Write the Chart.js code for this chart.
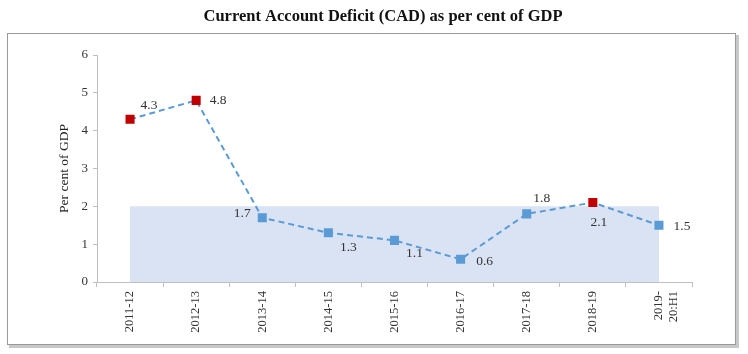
<!DOCTYPE html>
<html><head><meta charset="utf-8">
<script src="https://cdn.jsdelivr.net/npm/chart.js@4/dist/chart.umd.min.js"></script>
<style>html,body{margin:0;padding:0;background:#fff}#wrap{width:748px;height:354px;position:relative}</style>
</head><body><div id="wrap"><canvas id="c" width="748" height="354"></canvas></div>
<script>
const categories = ["2011-12","2012-13","2013-14","2014-15","2015-16","2016-17","2017-18","2018-19",["2019-","20:H1"]];
const cadValues = [4.3,4.8,1.7,1.3,1.1,0.6,1.8,2.1,1.5];
const highlighted = [true,true,false,false,false,false,false,true,false];
const bandValues = [2,2,2,2,2,2,2,2,2];
const yTicks = [0,1,2,3,4,5,6];
const titleText = "Current Account Deficit (CAD) as per cent of GDP";
const yTitle = "Per cent of GDP";
const labelOffsets = [[19,-14],[22,0],[-20,-4],[20,15],[20,13],[24,2],[15,-15],[6,20],[23,1]];

const serif = "'Liberation Serif','Times New Roman',serif";
const blue = "#5b9bd5", red = "#c00000";

const framePlugin = {
  id:'frame',
  beforeDraw(chart){
    const ctx = chart.ctx;
    ctx.save();
    ctx.fillStyle = '#fff'; ctx.fillRect(0,0,748,354);
    ctx.strokeStyle = '#c8c8c8'; ctx.lineWidth = 3;
    ctx.beginPath(); ctx.moveTo(737.5,35); ctx.lineTo(737.5,346.5); ctx.lineTo(9,346.5); ctx.stroke();
    ctx.strokeStyle = '#9a9a9a'; ctx.lineWidth = 1;
    ctx.strokeRect(7.5,33.5,728,311);
    ctx.fillStyle = '#111';
    ctx.font = "bold 16.5px " + serif;
    ctx.textAlign = 'center'; ctx.textBaseline = 'middle';
    ctx.fillText(titleText, 383, 17);
    ctx.restore();
  },
  afterDatasetsDraw(chart){
    const ctx = chart.ctx;
    const meta = chart.getDatasetMeta(1);
    ctx.save();
    ctx.font = "13.5px " + serif;
    ctx.fillStyle = '#333';
    ctx.textAlign = 'center'; ctx.textBaseline = 'middle';
    meta.data.forEach((pt,i)=>{
      ctx.fillText(cadValues[i].toFixed(1), pt.x + labelOffsets[i][0], pt.y + labelOffsets[i][1]);
    });
    ctx.restore();
  }
};

new Chart(document.getElementById('c'), {
  type:'line',
  data:{
    labels: categories,
    datasets:[
      {data: bandValues, borderWidth:0, pointRadius:0, fill:'origin', backgroundColor:'#dae3f3', borderColor:'rgba(0,0,0,0)', order:2},
      {data: cadValues, borderColor: blue, borderWidth:2, borderDash:[6,4], fill:false,
       pointStyle:'rect', pointRadius:6.4, pointBorderWidth:0,
       pointBackgroundColor: highlighted.map(h=>h?red:blue), pointBorderColor: highlighted.map(h=>h?red:blue), order:1}
    ]
  },
  options:{
    responsive:false, animation:false,
    layout:{padding:{left:55,top:55,right:56,bottom:0}},
    plugins:{legend:{display:false}, tooltip:{enabled:false}, title:{display:false}},
    scales:{
      x:{
        offset:true,
        grid:{offset:true, drawOnChartArea:false, drawTicks:true, tickLength:5, color:'#bfbfbf'},
        border:{color:'#bfbfbf'},
        ticks:{minRotation:90, maxRotation:90, autoSkip:false, padding:4, color:'#333', font:{family:serif, size:12.5}},
        afterFit(s){ s.height = 72; }
      },
      y:{
        min:0, max:6,
        afterBuildTicks(s){ s.ticks = yTicks.map(v=>({value:v})); },
        grid:{drawOnChartArea:false, drawTicks:true, tickLength:4, color:'#bfbfbf'},
        border:{color:'#bfbfbf'},
        ticks:{padding:5, color:'#333', font:{family:serif, size:13}},
        title:{display:true, text:yTitle, color:'#222', font:{family:serif, size:13.5}, padding:{top:1,bottom:2}},
        afterFit(s){ s.width = 42; }
      }
    }
  },
  plugins:[framePlugin]
});
</script></body></html>
